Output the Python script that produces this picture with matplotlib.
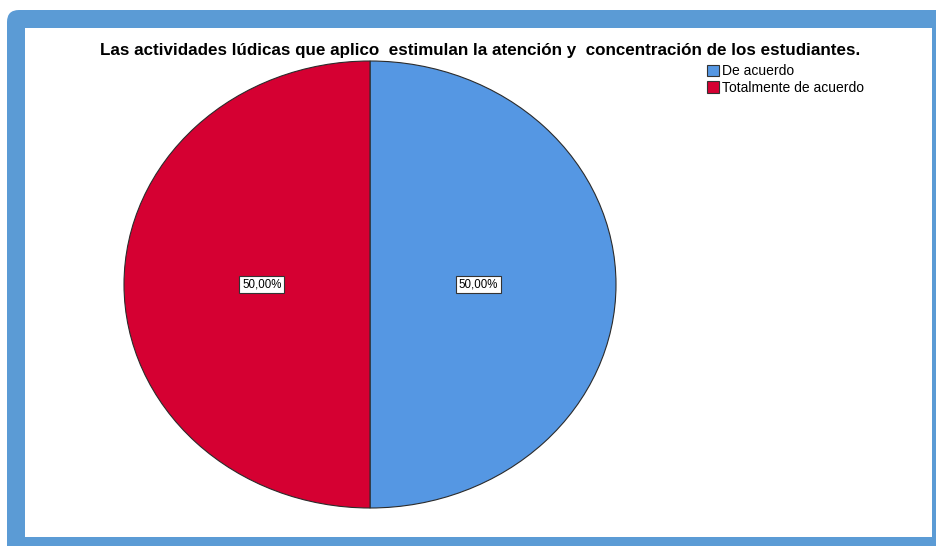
import matplotlib.pyplot as plt
from matplotlib.patches import FancyBboxPatch, Rectangle, Patch

categorias = ['De acuerdo', 'Totalmente de acuerdo']
porcentajes = [50.0, 50.0]
colores = ['#5597E3', '#D50032']
titulo = 'Las actividades lúdicas que aplico  estimulan la atención y  concentración de los estudiantes.'

W, H = 937, 546
fig = plt.figure(figsize=(W / 100, H / 100), dpi=100)
fig.patch.set_facecolor('white')

# marco azul con esquinas redondeadas (en pixeles, origen abajo-izquierda)
marco = FancyBboxPatch((7, -20), 960, H - 10 + 20, boxstyle='round,pad=0,rounding_size=12',
                       transform=None, facecolor='#5B9BD5', edgecolor='none', zorder=0)
fig.patches.append(marco)
interior = Rectangle((25, H - 537), 932 - 25, 537 - 28, transform=None,
                     facecolor='white', edgecolor='none', zorder=0.5)
fig.patches.append(interior)

# pastel eliptico: centro (370, 285), radios 246 x 224
ax = fig.add_axes([124 / W, (H - 508) / H, 492 / W, 447 / H])
ax.set_zorder(2)
ax.pie(porcentajes, colors=colores, startangle=90, counterclock=False,
       autopct=lambda p: f'{p:.2f}%'.replace('.', ','), pctdistance=0.44,
       wedgeprops=dict(edgecolor='#2b2b2b', linewidth=0.8),
       textprops=dict(fontsize=8.3, family='Liberation Sans',
                      bbox=dict(boxstyle='square,pad=0.25', facecolor='white',
                                edgecolor='#333333', linewidth=0.8)))
ax.set_aspect('auto')
ax.set_xlim(-1, 1)
ax.set_ylim(-1, 1)
ax.axis('off')

fig.text(480 / W, 1 - 51 / H, titulo, ha='center', va='center', fontsize=12.25,
         fontweight='bold', family='Liberation Sans', zorder=3)

handles = [Patch(facecolor=c, edgecolor='#333333', linewidth=0.8) for c in colores]
leg = fig.legend(handles, categorias, loc='upper left', bbox_to_anchor=(707 / W, 1 - 64 / H),
                 frameon=False, prop=dict(family='Liberation Sans', size=10),
                 handlelength=0.85, handleheight=0.85, handletextpad=0.2, labelspacing=0.2,
                 borderpad=0, borderaxespad=0)
leg.set_zorder(3)

fig.savefig('out.png', dpi=100)
